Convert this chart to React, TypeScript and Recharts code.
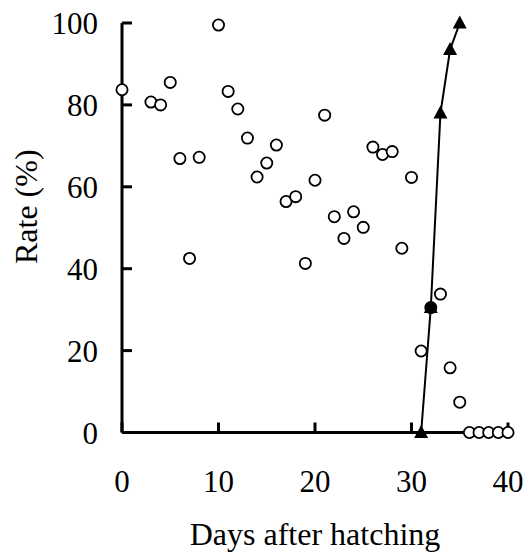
import { ScatterChart, Scatter, XAxis, YAxis } from 'recharts';

// open circles: rate by day
const rateDays = [0, 3, 4, 5, 6, 7, 8, 10, 11, 12, 13, 14, 15, 16, 17, 18, 19, 20, 21, 22, 23, 24, 25, 26, 27, 28, 29, 30, 31, 32, 33, 34, 35, 36, 37, 38, 39, 40];
const rateValues = [83.7, 80.7, 80.0, 85.5, 66.9, 42.5, 67.2, 99.5, 83.3, 79.0, 71.9, 62.4, 65.8, 70.2, 56.4, 57.6, 41.3, 61.6, 77.5, 52.7, 47.4, 53.9, 50.1, 69.7, 67.9, 68.6, 45.0, 62.3, 19.9, 30.5, 33.8, 15.8, 7.4, 0, 0, 0, 0, 0];
// circles hidden under a triangle appear solid
const filledDays = [32];

// filled triangles: cumulative rate
const cumDays = [31, 32, 33, 34, 35];
const cumValues = [0, 30.5, 78.0, 93.5, 100];

const xTicks = [0, 10, 20, 30, 40];
const yTicks = [0, 20, 40, 60, 80, 100];

const rateData = rateDays.map((d, i) => ({ day: d, value: rateValues[i] }));
const cumData = cumDays.map((d, i) => ({ day: d, value: cumValues[i] }));

const FONT = '"Liberation Serif", "Times New Roman", serif';

const OpenCircle = (props: any) => {
  const { cx, cy, payload } = props;
  const solid = filledDays.includes(payload.day);
  return <circle cx={cx} cy={cy} r={5.6} fill={solid ? '#000' : '#fff'} stroke="#000" strokeWidth={1.8} />;
};

const Triangle = (props: any) => {
  const { cx, cy } = props;
  return <polygon points={`${cx},${cy - 7.5} ${cx + 7},${cy + 5.5} ${cx - 7},${cy + 5.5}`} fill="#000" />;
};

export default function App() {
  return (
    <div style={{ position: 'absolute', left: 0, top: 0, background: '#fff' }}>
      <ScatterChart width={531} height={552} margin={{ top: 23, right: 23, left: 0, bottom: 0 }}>
        <XAxis
          type="number"
          dataKey="day"
          domain={[0, 40]}
          ticks={xTicks}
          height={119.5}
          axisLine={{ stroke: '#000', strokeWidth: 3 }}
          tickLine={{ stroke: '#000', strokeWidth: 3 }}
          tickSize={-10}
          tickMargin={47}
          tick={{ fill: '#000', fontSize: 31, fontFamily: FONT }}
          label={{ value: 'Days after hatching', position: 'insideBottom', offset: 7, fill: '#000', fontSize: 32, fontFamily: FONT }}
        />
        <YAxis
          type="number"
          dataKey="value"
          domain={[0, 100]}
          ticks={yTicks}
          width={122}
          axisLine={{ stroke: '#000', strokeWidth: 3 }}
          tickLine={{ stroke: '#000', strokeWidth: 3 }}
          tickSize={-10}
          tickMargin={34}
          tick={{ fill: '#000', fontSize: 31, fontFamily: FONT }}
          label={{ value: 'Rate (%)', angle: -90, position: 'insideLeft', offset: 26, dy: -21, fill: '#000', fontSize: 32, fontFamily: FONT, style: { textAnchor: 'middle' } }}
        />
        <Scatter data={rateData} shape={<OpenCircle />} isAnimationActive={false} />
        <Scatter
          data={cumData}
          shape={<Triangle />}
          fill="#000"
          line={{ stroke: '#000', strokeWidth: 2 }}
          isAnimationActive={false}
        />
      </ScatterChart>
    </div>
  );
}
